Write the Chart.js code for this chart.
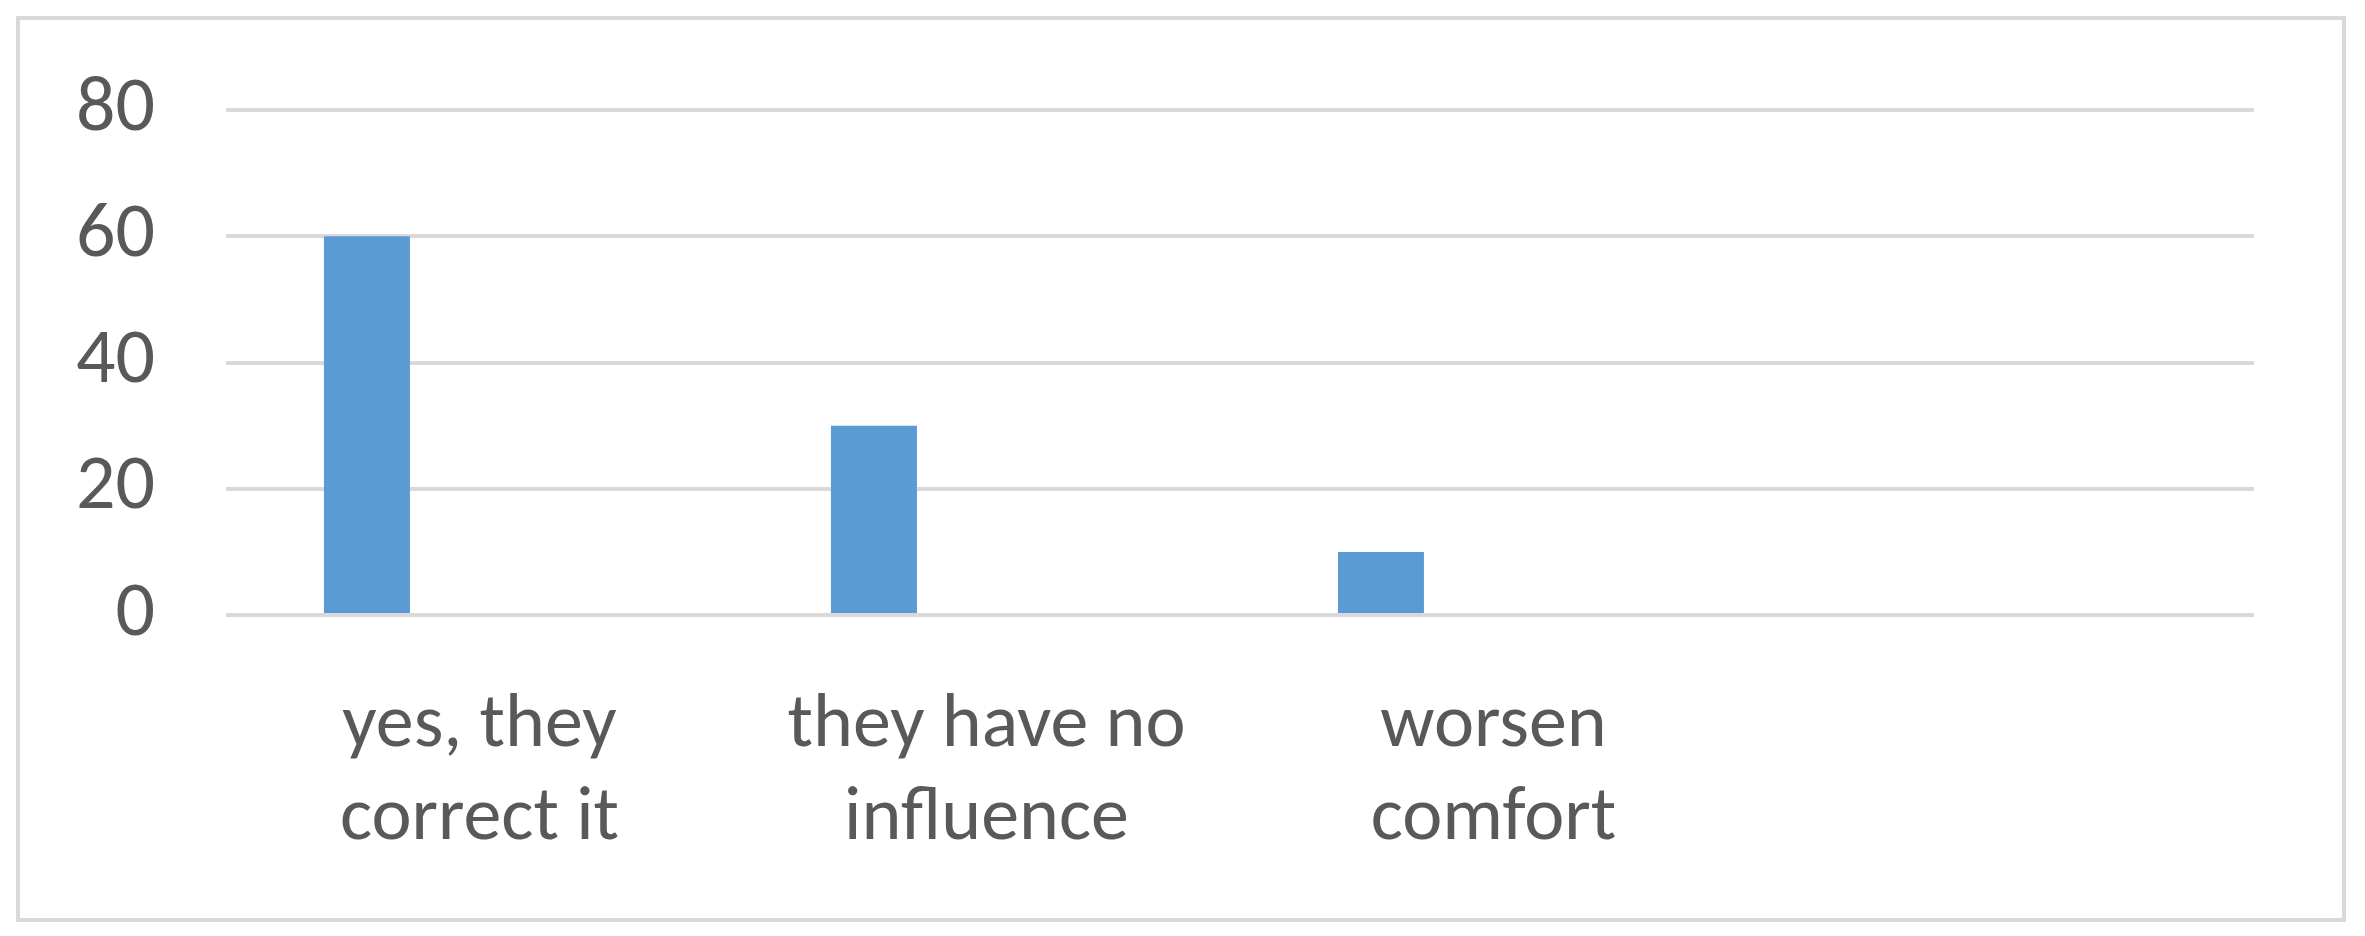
<!DOCTYPE html>
<html>
<head>
<meta charset="utf-8">
<script src="https://cdn.jsdelivr.net/npm/chart.js"></script>
<style>
  html, body { margin: 0; padding: 0; background: #fff; }
  #box {
    position: absolute;
    left: 16px; top: 16px;
    width: 2322px; height: 898px;
    border: 4px solid #d9d9d9;
    background: #fff;
  }
</style>
</head>
<body>
<div id="box"><canvas id="myChart" width="2322" height="898"></canvas></div>
<script>
let labels1 = [['yes, they', 'correct it'], ['they have no', 'influence'], ['worsen', 'comfort'], ''];
let data1 = [60, 30, 10, null];
// second series is empty in the original sheet, it only takes its slot
let data2 = [null, null, null, null];
let yTicks = [0, 20, 40, 60, 80];

let fontFam = "Carlito, 'Liberation Sans Narrow', Lato, sans-serif";

let ctx1 = document.getElementById('myChart').getContext('2d');

let chart1 = new Chart(ctx1, {
    type: 'bar',
    data: {
        labels: labels1,
        datasets: [{
            label: 'Series 1',
            data: data1,
            backgroundColor: '#5b9bd5',
            categoryPercentage: 0.888,
            barPercentage: 0.382
        }, {
            label: 'Series 2',
            data: data2,
            backgroundColor: '#ed7d31',
            categoryPercentage: 0.888,
            barPercentage: 0.382
        }]
    },
    options: {
        responsive: false,
        animation: false,
        layout: { padding: { top: 90, right: 88, left: 0, bottom: 0 } },
        plugins: {
            legend: { display: false },
            tooltip: { enabled: false }
        },
        scales: {
            x: {
                grid: { display: false },
                border: { display: false },
                ticks: {
                    color: '#595959',
                    font: { family: fontFam, size: 76, lineHeight: 1.22 },
                    padding: 58,
                    maxRotation: 0,
                    autoSkip: false
                },
                afterFit: function (s) { s.height = 303; }
            },
            y: {
                min: yTicks[0],
                max: yTicks[yTicks.length - 1],
                afterBuildTicks: function (s) { s.ticks = yTicks.map(v => ({ value: v })); },
                grid: { color: '#d9d9d9', lineWidth: 4, drawTicks: false },
                border: { display: false },
                ticks: {
                    color: '#595959',
                    font: { family: fontFam, size: 78 },
                    padding: 71
                },
                afterFit: function (s) {
                    s.width = 206;
                    s.paddingTop = 0;
                    s.paddingBottom = 0;
                }
            }
        }
    }
});
</script>
</body>
</html>
